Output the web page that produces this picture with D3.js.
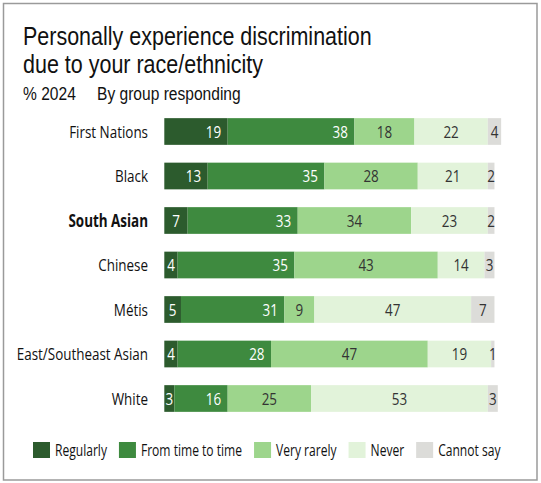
<!DOCTYPE html>
<html>
<head>
<meta charset="utf-8">
<script src="https://cdn.jsdelivr.net/npm/d3@7"></script>
<style>
  body { margin: 0; background: #fff; }
  svg { display: block; }
</style>
</head>
<body>
<svg id="chart" width="541" height="483"></svg>
<script>
// groups, top to bottom
const groups = ['First Nations', 'Black', 'South Asian', 'Chinese', 'Métis', 'East/Southeast Asian', 'White']
const highlight = 'South Asian'

// answer categories, in stack order
const answers = ['Regularly', 'From time to time', 'Very rarely', 'Never', 'Cannot say']

// % per group, one array per answer
const regularly  = [19, 13,  7,  4,  5,  4,  3]
const timeToTime = [38, 35, 33, 35, 31, 28, 16]
const veryRarely = [18, 28, 34, 43,  9, 47, 25]
const never      = [22, 21, 23, 14, 47, 19, 53]
const cannotSay  = [ 4,  2,  2,  3,  7,  1,  3]

const series = [regularly, timeToTime, veryRarely, never, cannotSay]
const colors = ['#2c5b2d', '#3e8a3f', '#9dd58c', '#e2f3da', '#dcdcd9']
const labelColors = ['#fff', '#fff', '#333', '#333', '#333']

// no condensed face installed: squeeze a regular one horizontally
const bodyFont = '"Open Sans", "Liberation Sans", sans-serif'
const bodySize = 17, bodySx = 0.79
const headFont = '"Liberation Sans", Arial, sans-serif'

const svg = d3.select('#chart')

// text helper: a squeezed label anchored at (x, y)
function label(parent, x, y, str, opt = {}) {
  const g = parent.append('g')
    .attr('transform', `translate(${x},${y}) scale(${opt.sx || bodySx},1)`)
  const t = g.append('text')
    .attr('dy', opt.dy !== undefined ? opt.dy : '0.36em')
    .attr('text-anchor', opt.anchor || 'start')
    .style('font-family', opt.font || bodyFont)
    .style('font-size', (opt.size || bodySize) + 'px')
    .style('font-weight', opt.bold ? 'bold' : 'normal')
    .style('fill', opt.fill || '#111')
    .text(str)
  return t
}

// frame
svg.append('rect')
  .attr('x', 3.5).attr('y', 3.5)
  .attr('width', 533.5).attr('height', 476.5)
  .attr('fill', '#fff').attr('stroke', '#9a9a9a').attr('stroke-width', 1.5)

// title + subtitle
const head = { font: headFont, size: 25, sx: 0.86, dy: 0, fill: '#111' }
label(svg, 23, 45, 'Personally experience discrimination', head)
label(svg, 23, 73, 'due to your race/ethnicity', head)
const sub = { font: headFont, size: 19, sx: 0.82, dy: 0, fill: '#111' }
label(svg, 23, 100, '% 2024', sub)
label(svg, 97, 100, 'By group responding', sub)

// scales
const x = d3.scaleLinear().domain([0, 100]).range([164.3, 497.8])
const y = d3.scaleBand().domain(groups).range([109.25, 420.75])
  .paddingInner(0.4).paddingOuter(0.2)

// stack rows
const segs = []
groups.forEach((g, i) => {
  let acc = 0
  series.forEach((s, k) => {
    segs.push({ group: g, k, value: s[i], x0: acc, x1: acc + s[i] })
    acc += s[i]
  })
})

// category labels
const cats = svg.append('g')
groups.forEach(g => {
  label(cats, 148, y(g) + y.bandwidth() / 2, g, { anchor: 'end', bold: g === highlight })
})

// bars
const bars = svg.append('g')
bars.selectAll('rect')
  .data(segs).join('rect')
  .attr('x', d => x(d.x0))
  .attr('y', d => y(d.group))
  .attr('width', d => x(d.x1) - x(d.x0))
  .attr('height', y.bandwidth())
  .attr('fill', d => colors[d.k])

// value labels: dark segments right-aligned, lighter ones centred
const vals = svg.append('g')
segs.forEach(d => {
  const w = x(d.x1) - x(d.x0)
  const right = d.k < 2 && w >= 30
  label(vals,
    right ? x(d.x1) - 6.5 : x(d.x0) + w / 2,
    y(d.group) + y.bandwidth() / 2,
    d.value,
    { anchor: right ? 'end' : 'middle', fill: labelColors[d.k] })
})

// legend
const legSx = 0.755
const legend = svg.append('g').attr('transform', 'translate(33,442)')
let lx = 0
answers.forEach((a, k) => {
  legend.append('rect').attr('x', lx).attr('width', 17).attr('height', 16).attr('fill', colors[k])
  const t = label(legend, lx + 22, 8, a, { size: 16, sx: legSx })
  lx += 22 + t.node().getComputedTextLength() * legSx + 12
})
</script>
</body>
</html>
